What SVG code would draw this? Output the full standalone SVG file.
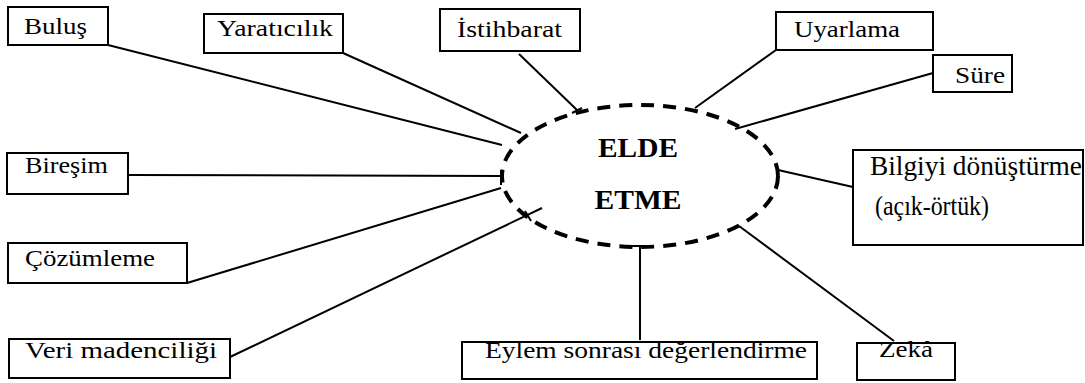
<svg xmlns="http://www.w3.org/2000/svg" width="1085" height="383" viewBox="0 0 1085 383">
<style>
.box{fill:#fff;stroke:#000;stroke-width:2}
.ln{stroke:#000;stroke-width:2;fill:none}
</style>
<rect width="1085" height="383" fill="#fff"/>
<g id="connectors">
<line class="ln" x1="108" y1="45" x2="502" y2="145"/>
<line class="ln" x1="343" y1="53" x2="521" y2="133"/>
<line class="ln" x1="519" y1="54" x2="577" y2="110"/>
<line class="ln" x1="572" y1="113" x2="582" y2="108"/>
<line class="ln" x1="776" y1="50" x2="695" y2="108"/>
<line class="ln" x1="933" y1="73" x2="735" y2="129"/>
<line class="ln" x1="128" y1="175" x2="501" y2="176"/>
<line class="ln" x1="501" y1="170" x2="501" y2="185"/>
<line class="ln" x1="187" y1="283" x2="501" y2="188"/>
<line class="ln" x1="230" y1="357" x2="542" y2="208"/>
<line class="ln" x1="525" y1="211" x2="531" y2="221"/>
<line class="ln" x1="640" y1="246" x2="640" y2="340"/>
<line class="ln" x1="631" y1="246" x2="649" y2="246"/>
<line class="ln" x1="739" y1="226" x2="894" y2="341"/>
<line class="ln" x1="778" y1="170" x2="853" y2="187"/>
<line class="ln" x1="778" y1="170" x2="777" y2="180"/>
</g>
<g font-family="Liberation Serif, serif" font-size="23" fill="#000">
<g id="center">
<ellipse cx="640" cy="176" rx="138" ry="71" fill="none" stroke="#000" stroke-width="4" stroke-dasharray="13 9"/>
<text x="638" y="157" font-size="27" font-weight="bold" text-anchor="middle" textLength="80" lengthAdjust="spacingAndGlyphs">ELDE</text>
<text x="638" y="209" font-size="27" font-weight="bold" text-anchor="middle" textLength="87" lengthAdjust="spacingAndGlyphs">ETME</text>
</g>
<g id="bulus"><rect class="box" x="8" y="7" width="100" height="38"/><text x="24" y="34" textLength="63" lengthAdjust="spacingAndGlyphs">Buluş</text></g>
<g id="yaraticilik"><rect class="box" x="204" y="14" width="139" height="39"/><text x="217" y="36" textLength="116" lengthAdjust="spacingAndGlyphs">Yaratıcılık</text></g>
<g id="istihbarat"><rect class="box" x="440" y="9" width="140" height="42"/><text x="457" y="37" textLength="105" lengthAdjust="spacingAndGlyphs">İstihbarat</text></g>
<g id="uyarlama"><rect class="box" x="776" y="12" width="157" height="38"/><text x="794" y="37" textLength="106" lengthAdjust="spacingAndGlyphs">Uyarlama</text></g>
<g id="sure"><rect class="box" x="933" y="55" width="79" height="37"/><text x="955" y="83" textLength="50" lengthAdjust="spacingAndGlyphs">Süre</text></g>
<g id="beresim"><rect class="box" x="7" y="153" width="121" height="41"/><text x="25" y="173" textLength="83" lengthAdjust="spacingAndGlyphs">Bireşim</text></g>
<g id="cozumleme"><rect class="box" x="8" y="243" width="179" height="40"/><text x="25" y="266" textLength="130" lengthAdjust="spacingAndGlyphs">Çözümleme</text></g>
<g id="veri"><rect class="box" x="9" y="339" width="221" height="39"/><text x="25" y="358" textLength="192" lengthAdjust="spacingAndGlyphs">Veri madenciliği</text></g>
<g id="eylem"><rect class="box" x="462" y="342" width="355" height="37"/><text x="485" y="358" textLength="322" lengthAdjust="spacingAndGlyphs">Eylem sonrası değerlendirme</text></g>
<g id="zeka"><rect class="box" x="857" y="343" width="98" height="37"/><text x="879" y="357" textLength="54" lengthAdjust="spacingAndGlyphs">Zekâ</text></g>
<g id="bilgiyi"><rect class="box" x="853" y="150" width="230" height="95"/><text x="870" y="175" font-size="27" textLength="212" lengthAdjust="spacingAndGlyphs">Bilgiyi dönüştürme</text><text x="875" y="215" font-size="27" textLength="114" lengthAdjust="spacingAndGlyphs">(açık-örtük)</text></g>
</g>
</svg>
